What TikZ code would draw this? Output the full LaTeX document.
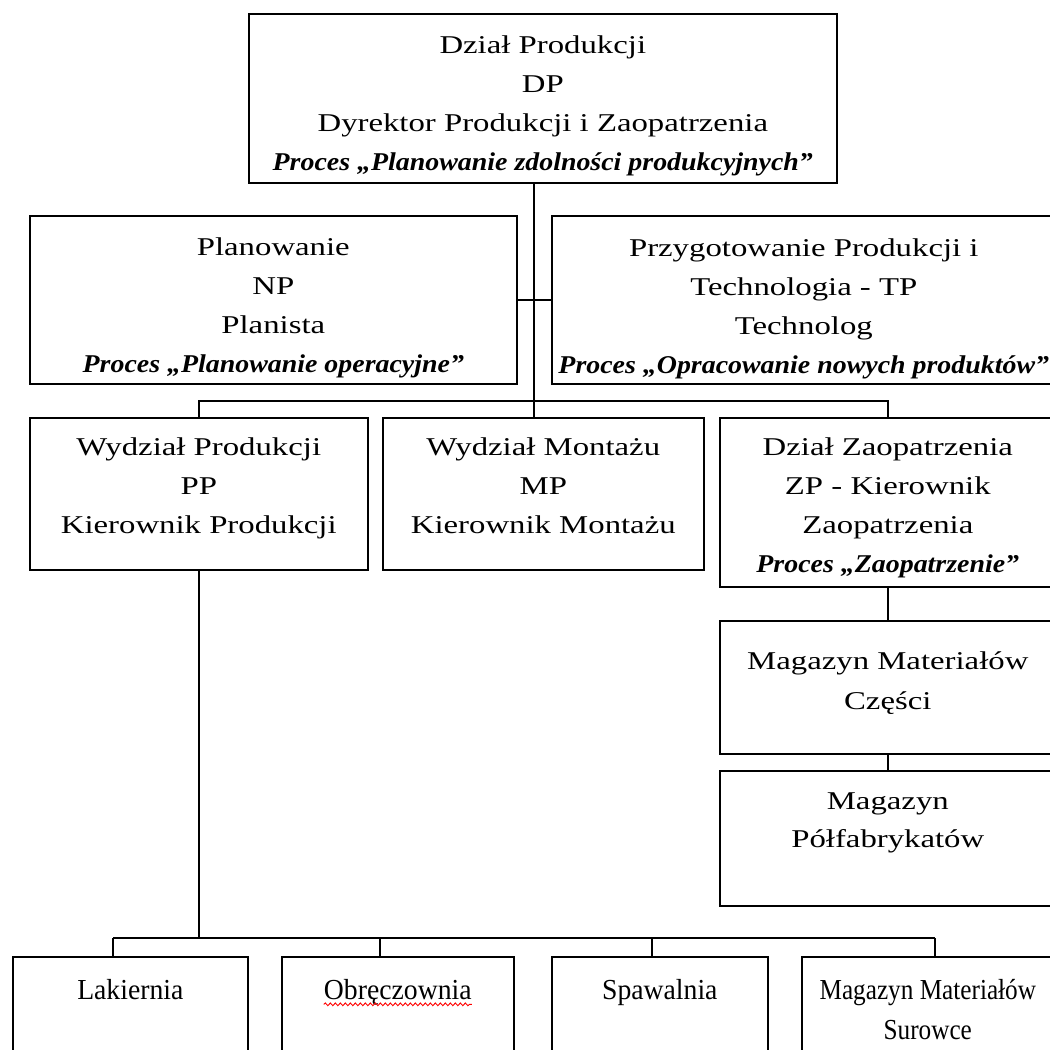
\documentclass[tikz,border=0pt]{standalone}
\usepackage{fontspec}
\setmainfont{Liberation Serif}[FakeStretch=1.28]
\newfontfamily\procfont{Liberation Serif}[FakeStretch=1.09]
\newfontfamily\rowfont{Liberation Serif}[FakeStretch=0.955]
\newfontfamily\tightfont{Liberation Serif}[FakeStretch=0.87]
\usetikzlibrary{positioning, decorations.pathmorphing}
\newcommand*{\proc}[1]{{\procfont\bfseries\itshape Proces „#1”}}

\begin{document}
\begin{tikzpicture}[x=1pt, y=-1pt,
    unit/.style    = {draw, line width=1.6pt, inner sep=0pt, anchor=north west},
    caption/.style = {align=center, inner sep=0pt,
      font=\fontsize{25.6}{39}\selectfont},
    low caption/.style = {align=center, inner sep=0pt,
      font=\rowfont\fontsize{29}{40}\selectfont},
    link/.style    = {line width=1.4pt}
  ]
  \useasboundingbox (0,0) rectangle (1050,1050);
  \clip (0,0) rectangle (1050,1050);
  % boxes
  \node[unit, minimum width=588pt, minimum height=169pt] (dp) at (248,13) {};
  \node[unit, minimum width=487pt, minimum height=168pt] (plan) at (29,215) {};
  \node[unit, minimum width=504pt, minimum height=168pt] (przyg) at (551,215) {};
  \node[unit, minimum width=338pt, minimum height=152pt] (wp) at (29,417) {};
  \node[unit, minimum width=321pt, minimum height=152pt] (wm) at (382,417) {};
  \node[unit, minimum width=336pt, minimum height=169pt] (dz) at (719,417) {};
  \node[unit, minimum width=336pt, minimum height=133pt] (mmc) at (719,620) {};
  \node[unit, minimum width=336pt, minimum height=135pt] (mp) at (719,770) {};
  \node[unit, minimum width=235pt, minimum height=150pt] (lak) at (12,956) {};
  \node[unit, minimum width=232pt, minimum height=150pt] (obr) at (281,956) {};
  \node[unit, minimum width=216pt, minimum height=150pt] (spa) at (551,956) {};
  \node[unit, minimum width=252pt, minimum height=150pt] (mms) at (801,956) {};
  % texts
  \node[caption, below=23pt of dp.north] (dp-text) {Dział Produkcji\\DP\\
    Dyrektor Produkcji i Zaopatrzenia\\\proc{Planowanie zdolności produkcyjnych}};
  \node[caption, below=23pt of plan.north] (plan-text) {Planowanie\\NP\\Planista\\
    \proc{Planowanie operacyjne}};
  \node[caption, below=24pt of przyg.north] (przyg-text) {Przygotowanie Produkcji i\\
    Technologia - TP\\Technolog\\\proc{Opracowanie nowych produktów}};
  \node[caption, below=21pt of wp.north] (wp-text) {Wydział Produkcji\\PP\\Kierownik Produkcji};
  \node[caption, below=21pt of wm.north] (wm-text) {Wydział Montażu\\MP\\Kierownik Montażu};
  \node[caption, below=21pt of dz.north] (dz-text) {Dział Zaopatrzenia\\ZP - Kierownik\\
    Zaopatrzenia\\\proc{Zaopatrzenie}};
  \node[caption, below=31pt of mmc.north,
    font=\fontsize{25.6}{40}\selectfont] (mmc-text) {Magazyn Materiałów\\Części};
  \node[caption, below=23pt of mp.north,
    font=\fontsize{25.6}{38}\selectfont] (mp-text) {Magazyn\\Półfabrykatów};
  \node[low caption, below=23pt of lak.north] (lak-text) {Lakiernia};
  \node[low caption, below=23pt of obr.north] (obr-text) {Obręczownia};
  \node[low caption, below=23pt of spa.north] (spa-text) {Spawalnia};
  \node[low caption, below=23pt of mms.north,
    font=\tightfont\fontsize{29}{40}\selectfont] (mms-text) {Magazyn Materiałów\\Surowce};
  \draw[red, line width=0.9pt, decorate,
    decoration={snake, amplitude=1.4pt, segment length=5pt}]
    ([yshift=-5pt]obr-text.base west) -- ([yshift=-5pt]obr-text.base east);
  % connectors
  \coordinate (spine) at (534,0);
  \draw[link] (dp.south -| spine) -- (wm.north -| spine);
  \draw[link] (plan.east) -- (przyg.west);
  \draw[link] (wp.north) -- ++(0,-16) -| (dz.north);
  \draw[link] (dz.south) -- (mmc.north);
  \draw[link] (mmc.south) -- (mp.north);
  \coordinate (drop1) at (113,938);
  \coordinate (drop2) at (380,938);
  \coordinate (drop3) at (652,938);
  \coordinate (drop4) at (935,938);
  \draw[link] (wp.south) -- (wp.south |- drop1);
  \draw[link] (drop1) -- (drop4);
  \draw[link] (drop1) -- (drop1 |- lak.north);
  \draw[link] (drop2) -- (drop2 |- obr.north);
  \draw[link] (drop3) -- (drop3 |- spa.north);
  \draw[link] (drop4) -- (drop4 |- mms.north);
\end{tikzpicture}
\end{document}
